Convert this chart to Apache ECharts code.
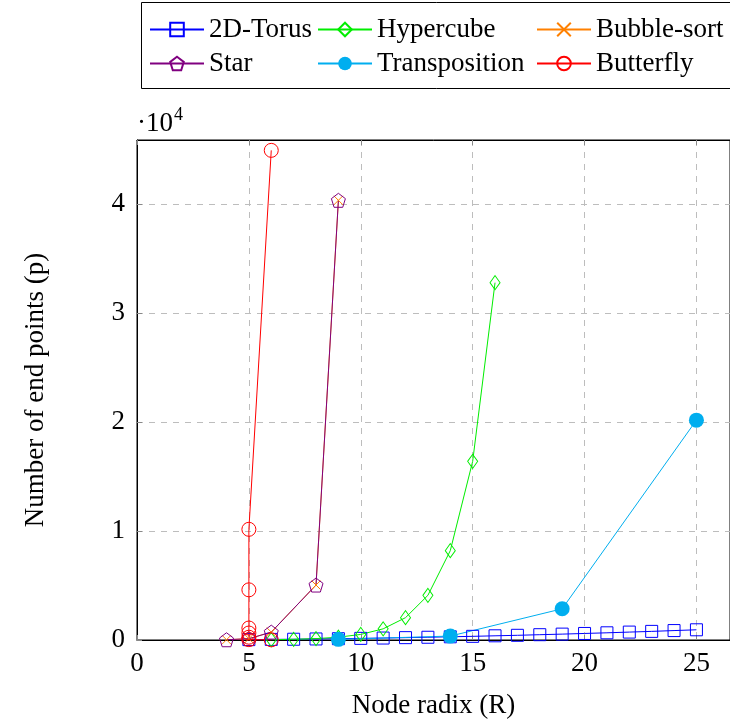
<!DOCTYPE html>
<html><head><meta charset="utf-8">
<script src="https://cdn.jsdelivr.net/npm/echarts@6/dist/echarts.min.js"></script>
<style>html,body{margin:0;padding:0;background:#fff}#c{width:730px;height:724px}</style>
</head><body><div id="c"></div>
<script>
// ---- data ----
const torusX = [5,6,7,8,9,10,11,12,13,14,15,16,17,18,19,20,21,22,23,24,25];
const torusY = [36,54,70,96,120,150,180,216,252,294,336,384,430,486,540,600,660,726,790,864,936];
const hypercubeX = [6,7,8,9,10,11,12,13,14,15,16];
const hypercubeY = [32,64,128,256,512,1024,2048,4096,8192,16384,32768];
const bubbleX = [4,5,6,8,9];
const bubbleY = [24,120,720,5040,40320];
const starX = [4,5,6,8,9];
const starY = [24,120,720,5040,40320];
const transX = [9,14,19,25];
const transY = [60,360,2860,20160];
const butterflyX = [6,5,5,5,5,5,5,6];
const butterflyY = [16,32,256,640,1100,4600,10150,44900];
const xTicks = [0,5,10,15,20,25];
const yTickLabels = ['0','1','2','3','4'];
const seriesNames = ['2D-Torus','Hypercube','Bubble-sort','Star','Transposition','Butterfly'];

const FONT = 'Liberation Serif';
const FS = 27;
const pairs = (xs, ys) => xs.map((x, i) => [x, ys[i]]);
const pentagon = 'path://M50,0 L97.6,34.5 L79.4,90.5 L20.6,90.5 L2.4,34.5 Z';
const cross = 'path://M0,0 L10,10 M0,10 L10,0';

function mk(name, data, color, symbol, size, filled) {
  return {
    name, type: 'line', data, symbol, symbolSize: size,
    showSymbol: true, animation: false, clip: false,
    lineStyle: { color, width: 1 },
    itemStyle: filled ? { color, borderWidth: 0 } : { color: 'rgba(0,0,0,0)', borderColor: color, borderWidth: 1 },
    emphasis: { disabled: true }
  };
}

const chart = echarts.init(document.getElementById('c'), null, { renderer: 'canvas' });

const legendPos = [
  [149, 16], [317, 16], [536, 16],
  [149, 50], [317, 50], [536, 50]
];

const option = {
  animation: false,
  backgroundColor: '#fff',
  grid: { left: 137, top: 140, right: 0, bottom: 82, show: true, borderColor: '#000', borderWidth: 1, containLabel: false },
  xAxis: [{
    type: 'value', min: 0, max: 26.5, interval: 5,
    axisLine: { show: true, lineStyle: { color: '#000', width: 1 } },
    axisTick: { show: true, inside: true, length: 5, lineStyle: { color: '#888' } },
    axisLabel: { fontFamily: FONT, fontSize: FS, color: '#000', margin: 10, showMaxLabel: false,
      formatter: v => xTicks.includes(v) ? String(v) : '' },
    splitLine: { show: true, lineStyle: { color: '#bdbdbd', type: [6, 6], width: 1 } },
    name: 'Node radix (R)', nameLocation: 'middle', nameGap: 52,
    nameTextStyle: { fontFamily: FONT, fontSize: FS, color: '#000' }
  }, {
    type: 'value', min: 0, max: 26.5, interval: 5, position: 'top',
    axisLine: { show: true, lineStyle: { color: '#000' } },
    axisTick: { show: true, inside: true, length: 5, lineStyle: { color: '#888' } },
    axisLabel: { show: false }, splitLine: { show: false }
  }],
  yAxis: {
    type: 'value', min: 0, max: 45850, interval: 10000,
    axisLine: { show: true, lineStyle: { color: '#000', width: 1 } },
    axisTick: { show: true, inside: true, length: 5, lineStyle: { color: '#888' } },
    axisLabel: { fontFamily: FONT, fontSize: FS, color: '#000', margin: 12, showMaxLabel: false,
      formatter: v => yTickLabels[Math.round(v / 10000)] || '' },
    splitLine: { show: true, lineStyle: { color: '#bdbdbd', type: [6, 6], width: 1 } },
    name: 'Number of end points (p)', nameLocation: 'middle', nameGap: 88, nameRotate: 90,
    nameTextStyle: { fontFamily: FONT, fontSize: FS, color: '#000' }
  },
  legend: seriesNames.map((n, i) => ({
    data: [n], left: legendPos[i][0], top: legendPos[i][1], padding: 0,
    itemWidth: 54, itemHeight: 17, itemGap: 0,
    textStyle: { fontFamily: FONT, fontSize: FS, color: '#000' },
    selectedMode: false
  })),
  graphic: [
    { type: 'rect', left: 141, top: 2, shape: { width: 620, height: 86 }, style: { fill: 'rgba(0,0,0,0)', stroke: '#000', lineWidth: 1 }, z: -1 },
    { type: 'text', left: 137, top: 110, style: { text: '·10', font: '27px "Liberation Serif"', fill: '#000' } },
    { type: 'text', left: 174, top: 106, style: { text: '4', font: '18px "Liberation Serif"', fill: '#000' } }
  ],
  series: [
    mk('2D-Torus', pairs(torusX, torusY), '#0000ff', 'rect', 12, false),
    mk('Hypercube', pairs(hypercubeX, hypercubeY), '#00ee00', 'diamond', [10, 14], false),
    mk('Bubble-sort', pairs(bubbleX, bubbleY), '#ff8000', cross, 9, false),
    mk('Star', pairs(starX, starY), '#800080', pentagon, 14, false),
    mk('Transposition', pairs(transX, transY), '#00aeef', 'circle', 15, true),
    mk('Butterfly', pairs(butterflyX, butterflyY), '#ff0000', 'circle', 14, false)
  ]
};
chart.setOption(option);
</script>
</body></html>
